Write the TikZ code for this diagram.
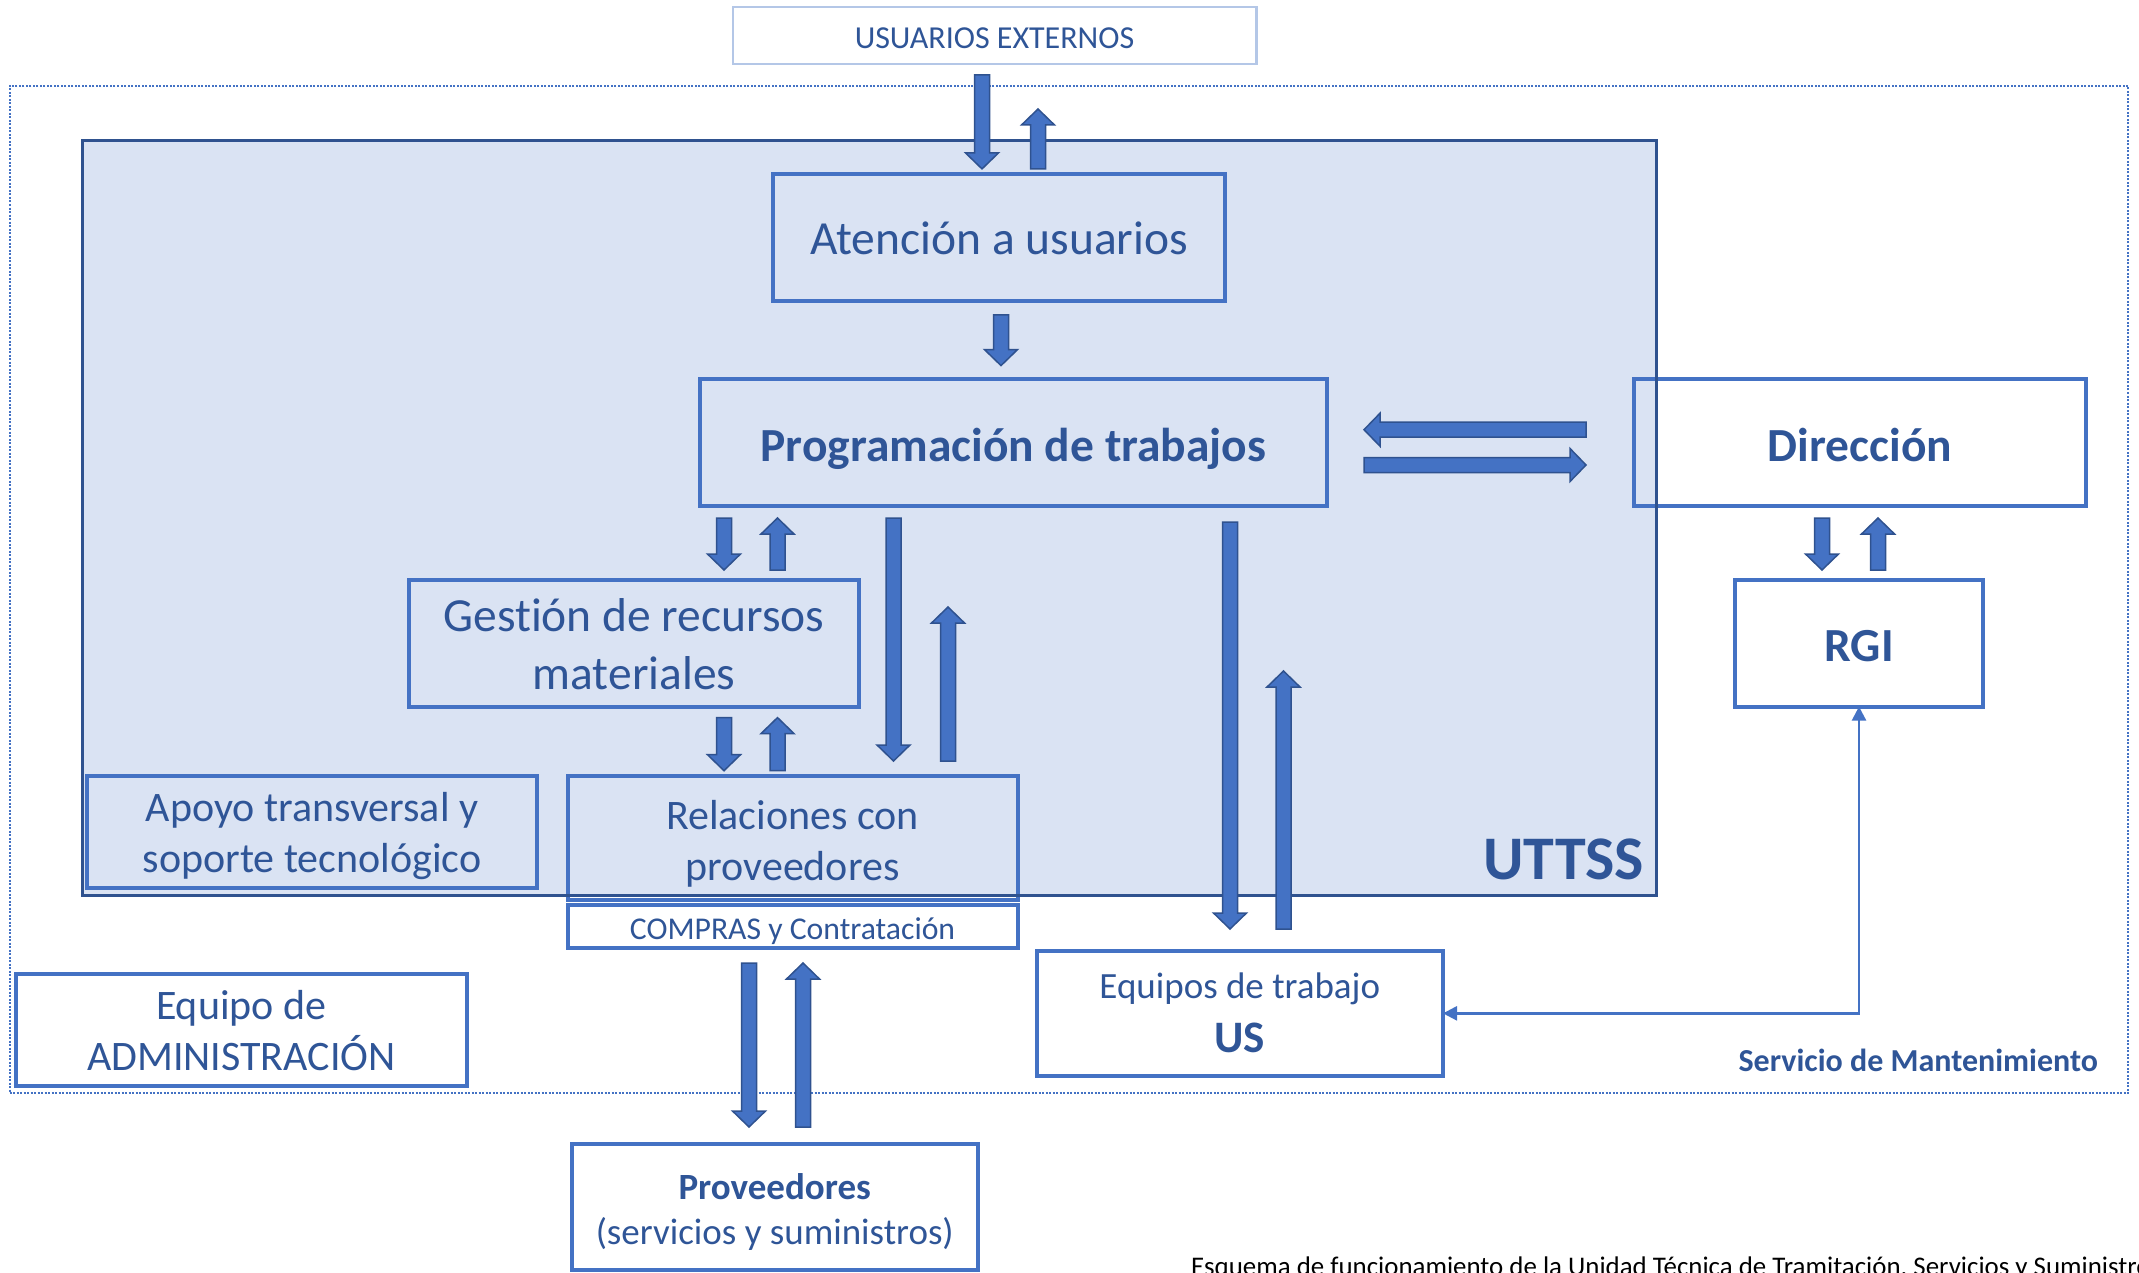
\documentclass[tikz,border=0pt]{standalone}
\usepackage{fontspec}
\setmainfont{Carlito}[Ligatures=NoCommon]
\usetikzlibrary{calc,arrows.meta}
\definecolor{boxblue}{HTML}{4472C4}
\definecolor{txtblue}{HTML}{2F5597}
\definecolor{uttfill}{HTML}{DAE3F3}
\definecolor{uttline}{HTML}{2F528F}
\definecolor{usrline}{HTML}{B4C7E7}
\definecolor{arrline}{HTML}{2F528F}
% first-line strut with adjustable height, other lines default
\newcommand\lstrut[1][0.88em]{\rule[-0.2em]{0pt}{\dimexpr#1+0.2em\relax}}
\tikzset{
  box/.style={draw=boxblue, line width=4pt, inner sep=0pt, outer sep=0pt, text=txtblue, align=center},
  fbig/.style={font=\fontsize{47.5}{58}\selectfont},
  fbigb/.style={font=\bfseries\fontsize{47.5}{58}\selectfont},
  fmid/.style={font=\fontsize{42}{51}\selectfont},
  fsmall/.style={font=\fontsize{37}{45}\selectfont},
  oneline/.style={text height=#1, text depth=0pt},
  outerbox/.style={draw=boxblue, line width=2pt, dash pattern=on 2pt off 1.5pt, inner sep=0pt, outer sep=0pt},
  uttarea/.style={fill=uttfill, inner sep=0pt, outer sep=0pt},
  uttborder/.style={draw=uttline, line width=3pt},
  blockarr/.style={fill=boxblue, draw=arrline, line width=1.5pt, line join=miter},
  thinarr/.style={draw=boxblue, line width=2.5pt, {Triangle[length=14pt,width=14pt]}-{Triangle[length=14pt,width=14pt]}},
  lbl/.style={inner sep=0pt, outer sep=0pt, text=txtblue}
}
\newcommand\barrow[2]{%
  \path #1 coordinate (ba1) #2 coordinate (ba2);
  \draw[blockarr] let \p1=(ba1), \p2=(ba2),
      \n1={veclen(\x2-\x1,\y2-\y1)}, \n3={(\x2-\x1)/\n1}, \n4={(\y2-\y1)/\n1} in
    ({\x1-7.5*(\n4)},{\y1+7.5*(\n3)})
    -- ({\x2-16*(\n3)-7.5*(\n4)},{\y2-16*(\n4)+7.5*(\n3)})
    -- ({\x2-16*(\n3)-16.5*(\n4)},{\y2-16*(\n4)+16.5*(\n3)})
    -- (\p2)
    -- ({\x2-16*(\n3)+16.5*(\n4)},{\y2-16*(\n4)-16.5*(\n3)})
    -- ({\x2-16*(\n3)+7.5*(\n4)},{\y2-16*(\n4)-7.5*(\n3)})
    -- ({\x1+7.5*(\n4)},{\y1-7.5*(\n3)}) -- cycle;}
\begin{document}
\begin{tikzpicture}[x=1pt,y=-1pt]
\useasboundingbox (0,0) rectangle (2139,1273);
\clip (0,0) rectangle (2139,1273);

% outer dotted frame (Servicio de Mantenimiento)
\node[outerbox, minimum width=2118.5pt, minimum height=1007pt] (serv) at (1068.75,589.5) {};
% UTTSS area
\node[uttarea, minimum width=1574pt, minimum height=754.5pt] (utt) at (869,517.75) {};

% boxes
\node[box, draw=usrline, line width=2.5pt, minimum width=523.5pt, minimum height=57pt,
      font=\fontsize{32}{38}\selectfont, oneline=26.6pt] (usr) at (994.5,35.5) {USUARIOS EXTERNOS};
\node[box, fbig, oneline=33.4pt, minimum width=452pt, minimum height=127pt] (aten) at (999,238) {Atención a usuarios};
\node[box, fbigb, oneline=38pt, minimum width=627pt, minimum height=127pt] (prog) at (1013.5,442.5) {Programación de trabajos};
\node[box, fbigb, oneline=38pt, minimum width=452pt, minimum height=127pt] (dir) at (1860,442.5) {Dirección};
\node[box, fbigb, oneline=35.5pt, minimum width=248pt, minimum height=126.6pt] (rgi) at (1859,643.3) {RGI};
\node[box, fbig, minimum width=450pt, minimum height=126.6pt] (gest) at (634,643.3) {\lstrut[0.94em]Gestión de recursos\\\lstrut materiales};
\node[box, fmid, minimum width=450pt, minimum height=112pt] (apoyo) at (312,832) {\lstrut[0.93em]Apoyo transversal y\\\lstrut soporte tecnológico};
\node[box, fmid, minimum width=450pt, minimum height=123.5pt] (rel) at (792.5,837.75) {\lstrut[1.01em]Relaciones con\\\lstrut proveedores};
\node[box, fill=white, font=\fontsize{31.7}{38}\selectfont, oneline=25.5pt, minimum width=450pt, minimum height=43pt] (compras) at (792.5,926.5) {COMPRAS y Contratación};
\node[box, fill=white, fmid, minimum width=450.5pt, minimum height=112pt] (admin) at (241.25,1030) {\lstrut[0.93em]Equipo de\\\lstrut ADMINISTRACIÓN};
\node[box, fill=white, font=\fontsize{37}{54}\selectfont, minimum width=406.4pt, minimum height=125.3pt] (equipos) at (1239.8,1013.35)
  {\lstrut Equipos de trabajo\\{\bfseries\fontsize{45}{54}\selectfont\lstrut US}};
\node[box, fill=white, fsmall, minimum width=406.5pt, minimum height=126pt] (prov) at (774.75,1207)
  {\lstrut[1.03em]\textbf{Proveedores}\\\lstrut(servicios y suministros)};

% UTTSS border on top
\draw[uttborder] (utt.north west) rectangle (utt.south east);

% block arrows
\barrow{($(usr.south)+(-12.5,11)$)}{($(aten.north)+(-17,-5.6)$)}
\barrow{($(aten.north)+(39,-5.6)$)}{($(usr.south)+(43.5,45)$)}
\barrow{($(aten.south)+(2,13.5)$)}{($(prog.north)+(-12.5,-13.4)$)}
\barrow{($(dir.west)+(-48,-12.8)$)}{($(prog.east)+(37,-12.8)$)}
\barrow{($(prog.east)+(37,22.5)$)}{($(dir.west)+(-48,22.5)$)}
\barrow{($(dir.south)+(-38,12)$)}{($(rgi.north)+(-37,-10)$)}
\barrow{($(rgi.north)+(19,-10)$)}{($(dir.south)+(18,12)$)}
\barrow{($(prog.south)+(-289.5,12)$)}{($(gest.north)+(90,-10)$)}
\barrow{($(gest.north)+(143.5,-10)$)}{($(prog.south)+(-236,12)$)}
\barrow{($(prog.south)+(-120,12)$)}{($(rel.north)+(101,-15)$)}
\barrow{($(rel.north)+(155.5,-15)$)}{($(prog.south)+(-65.5,101)$)}
\barrow{($(gest.south)+(90,11)$)}{($(rel.north)+(-68.5,-5.3)$)}
\barrow{($(rel.north)+(-15,-5.3)$)}{($(gest.south)+(143.5,11)$)}
\barrow{($(prog.south)+(216.5,16)$)}{($(equipos.north)+(-9.8,-21.7)$)}
\barrow{($(equipos.north)+(43.7,-21.7)$)}{($(prog.south)+(270,165)$)}
\barrow{($(compras.south)+(-43.5,15)$)}{($(prov.north)+(-25.75,-17)$)}
\barrow{($(prov.north)+(28.25,-17)$)}{($(compras.south)+(10.5,15)$)}

% thin connector RGI <-> Equipos
\draw[thinarr] (rgi.south) |- (equipos.east);

% labels
\node[lbl, anchor=base east, font=\bfseries\fontsize{62}{70}\selectfont] (uttlbl) at (1644,879) {UTTSS};
\node[lbl, anchor=base east, font=\bfseries\fontsize{32}{38}\selectfont] (servlbl) at (2098,1071) {Servicio de Mantenimiento};
\node[inner sep=0pt, outer sep=0pt, anchor=base west, font=\fontsize{26.9}{33}\selectfont] (caption) at (1191,1275)
  {Esquema de funcionamiento de la Unidad Técnica de Tramitación, Servicios y Suministros};
\end{tikzpicture}
\end{document}
